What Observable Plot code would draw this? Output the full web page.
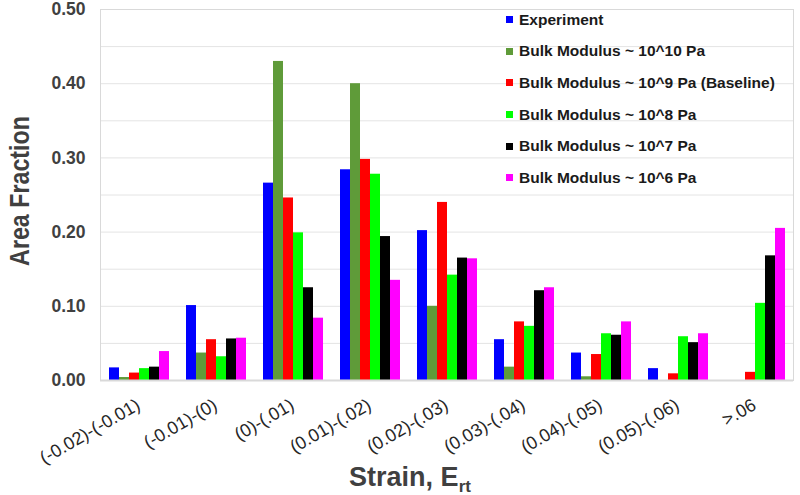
<!DOCTYPE html>
<html>
<head>
<meta charset="utf-8">
<script src="https://cdn.jsdelivr.net/npm/d3@7"></script>
<script src="https://cdn.jsdelivr.net/npm/@observablehq/plot@0.6"></script>
<style>
  html, body { margin: 0; padding: 0; background: #fff; }
  #wrap { position: relative; width: 800px; height: 495px; font-family: "Liberation Sans", Arial, sans-serif; }
  #ytitle { position: absolute; left: 20px; top: 191px; transform: translate(-50%, -50%) rotate(-90deg) scaleX(0.83);
            font-size: 28px; font-weight: bold; color: #404040; white-space: nowrap; line-height: 1; }
  #xtitle { position: absolute; left: 410px; top: 464px; transform: translateX(-50%);
            font-size: 27px; font-weight: bold; color: #404040; white-space: nowrap; line-height: 1; }
  #xtitle sub { font-size: 17px; vertical-align: -6px; }
  #legend { position: absolute; left: 506px; top: 4px; font-size: 15.5px; font-weight: bold; color: #1a1a1a; }
  #legend .row { display: flex; align-items: center; height: 31.6px; white-space: nowrap; }
  #legend .sw { width: 7px; height: 7px; margin-right: 6px; }
</style>
</head>
<body>
<div id="wrap">
  <div id="chart"></div>
  <div id="ytitle">Area Fraction</div>
  <div id="xtitle">Strain, E<sub>rt</sub></div>
  <div id="legend"></div>
</div>
<script>
const categories = ["(-0.02)-(-0.01)", "(-0.01)-(0)", "(0)-(.01)", "(0.01)-(.02)", "(0.02)-(.03)", "(0.03)-(.04)", "(0.04)-(.05)", "(0.05)-(.06)", ">.06"];
const seriesNames = ["Experiment", "Bulk Modulus ~ 10^10 Pa", "Bulk Modulus ~ 10^9 Pa (Baseline)", "Bulk Modulus ~ 10^8 Pa", "Bulk Modulus ~ 10^7 Pa", "Bulk Modulus ~ 10^6 Pa"];
const seriesColors = ["#0000FF", "#5F9B39", "#FF0000", "#00FF00", "#000000", "#FF00FF"];
const experiment = [0.017, 0.101, 0.266, 0.284, 0.202, 0.055, 0.037, 0.016, 0];
const bulk1e10   = [0.004, 0.037, 0.430, 0.400, 0.100, 0.018, 0.005, 0, 0];
const bulk1e9    = [0.010, 0.055, 0.246, 0.298, 0.240, 0.079, 0.035, 0.009, 0.011];
const bulk1e8    = [0.016, 0.032, 0.199, 0.278, 0.142, 0.073, 0.063, 0.059, 0.104];
const bulk1e7    = [0.018, 0.056, 0.125, 0.194, 0.165, 0.121, 0.061, 0.051, 0.168];
const bulk1e6    = [0.039, 0.057, 0.084, 0.135, 0.164, 0.125, 0.079, 0.063, 0.205];
const yTicks = [0, 0.1, 0.2, 0.3, 0.4, 0.5];
const gridValues = [0.05, 0.1, 0.15, 0.2, 0.25, 0.3, 0.35, 0.4, 0.45];

const seriesValues = [experiment, bulk1e10, bulk1e9, bulk1e8, bulk1e7, bulk1e6];
const data = [];
categories.forEach((c, i) => {
  seriesNames.forEach((s, j) => data.push({cat: c, series: s, value: seriesValues[j][i]}));
});

const chart = Plot.plot({
  width: 800,
  height: 495,
  marginLeft: 97,
  marginRight: 5,
  marginTop: 9,
  marginBottom: 115,
  style: {fontFamily: "'Liberation Sans', Arial, sans-serif", color: "#333", background: "#fff"},
  fx: {domain: categories, padding: 0, label: null},
  x: {domain: seriesNames, paddingInner: 0, paddingOuter: 0.72, axis: null},
  y: {domain: [0, 0.5], axis: null},
  color: {domain: seriesNames, range: seriesColors},
  marks: [
    Plot.ruleY(gridValues, {stroke: "#e4e4e4", strokeWidth: 1}),
    Plot.ruleY([0.5], {stroke: "#d9d9d9", strokeWidth: 1}),
    Plot.frame({facet: "super", stroke: "#d9d9d9", strokeWidth: 1}),
    Plot.barY(data, {fx: "cat", x: "series", y: "value", fill: "series"}),
    Plot.ruleY([0], {stroke: "#d9d9d9", strokeWidth: 2}),
    Plot.axisY({ticks: yTicks, tickFormat: d3.format(".2f"), tickSize: 0, tickPadding: 15, fontSize: 17.5, fontWeight: "bold", label: null, fill: "#404040"}),
    Plot.axisFx({anchor: "bottom", tickSize: 0, tickPadding: 17, tickRotate: -30, textAnchor: "end", lineAnchor: "top", fontSize: 18, dx: -4, label: null, fill: "#262626", stroke: "#262626", strokeWidth: 0.3})
  ]
});
document.getElementById("chart").appendChild(chart);

const legend = document.getElementById("legend");
seriesNames.forEach((s, j) => {
  const row = document.createElement("div");
  row.className = "row";
  const sw = document.createElement("div");
  sw.className = "sw";
  sw.style.background = seriesColors[j];
  const t = document.createElement("span");
  t.textContent = s;
  row.appendChild(sw);
  row.appendChild(t);
  legend.appendChild(row);
});
</script>
</body>
</html>
